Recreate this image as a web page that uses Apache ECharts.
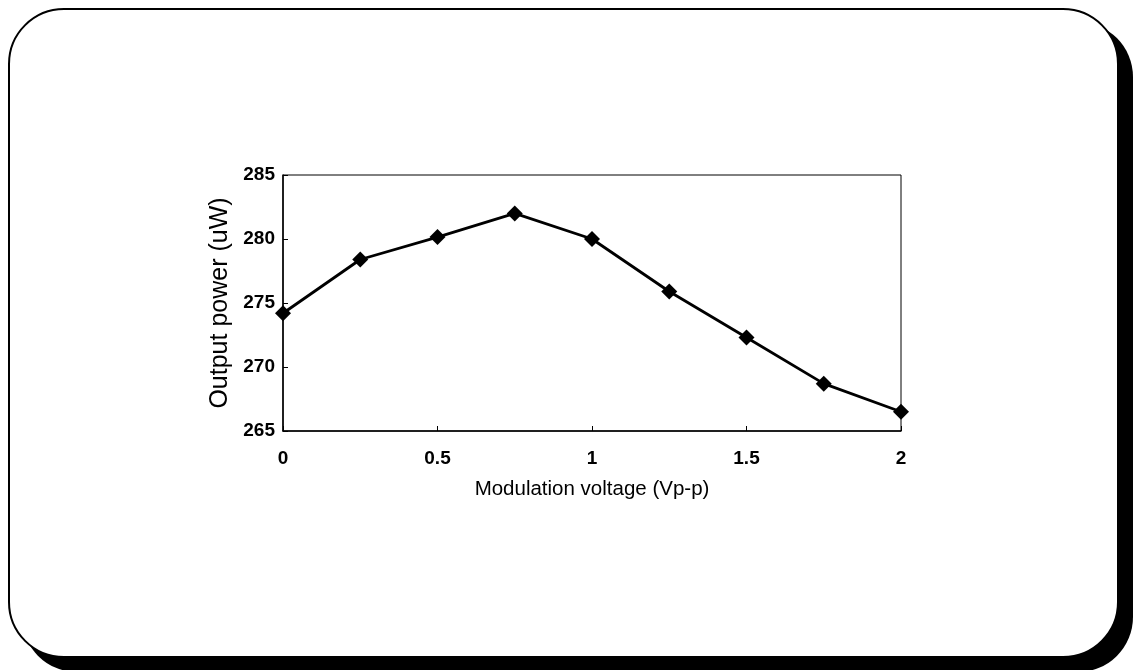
<!DOCTYPE html>
<html>
<head>
<meta charset="utf-8">
<script src="https://cdn.jsdelivr.net/npm/echarts@6/dist/echarts.min.js"></script>
<style>
html,body{margin:0;padding:0;background:#fff;}
#chart{width:1133px;height:670px;}
</style>
</head>
<body>
<div id="chart"></div>
<script>
const voltages = [0, 0.25, 0.5, 0.75, 1, 1.25, 1.5, 1.75, 2];
const powers = [274.2, 278.4, 280.15, 282.0, 280.0, 275.9, 272.3, 268.7, 266.5];
const xTitle = 'Modulation voltage (Vp-p)';
const yTitle = 'Output power (uW)';

const chart = echarts.init(document.getElementById('chart'));
const font = '"Liberation Sans", Arial, sans-serif';
chart.setOption({
  backgroundColor: '#fff',
  animation: false,
  graphic: [
    { type: 'rect', z: -10, silent: true,
      shape: { x: 22, y: 22, width: 1111, height: 650, r: 55 },
      style: { fill: '#000' } },
    { type: 'rect', z: -9, silent: true,
      shape: { x: 9, y: 9, width: 1109, height: 648, r: 55 },
      style: { fill: '#fff', stroke: '#000', lineWidth: 2 } }
  ],
  grid: { left: 283, right: 232, top: 175, bottom: 239, show: true, borderColor: '#000', borderWidth: 1, backgroundColor: 'transparent' },
  xAxis: {
    type: 'value', min: 0, max: 2, interval: 0.5,
    name: xTitle, nameLocation: 'middle', nameGap: 48,
    nameTextStyle: { fontFamily: font, fontSize: 20.5, color: '#000' },
    axisLine: { show: true, lineStyle: { color: '#000', width: 1.5 } },
    axisTick: { show: true, inside: true, length: 5, lineStyle: { color: '#000' } },
    axisLabel: { fontFamily: font, fontSize: 19, fontWeight: 'bold', color: '#000', margin: 18 },
    splitLine: { show: false }
  },
  yAxis: {
    type: 'value', min: 265, max: 285, interval: 5,
    name: yTitle, nameLocation: 'middle', nameGap: 45, nameRotate: 90,
    nameTextStyle: { fontFamily: font, fontSize: 25, color: '#000' },
    axisLine: { show: true, lineStyle: { color: '#000', width: 1.5 } },
    axisTick: { show: true, inside: true, length: 5, lineStyle: { color: '#000' } },
    axisLabel: { fontFamily: font, fontSize: 19, fontWeight: 'bold', color: '#000', margin: 8 },
    splitLine: { show: false }
  },
  series: [{
    type: 'line',
    data: voltages.map((v, i) => [v, powers[i]]),
    symbol: 'diamond', symbolSize: 16,
    itemStyle: { color: '#000' },
    lineStyle: { color: '#000', width: 2.8 },
    clip: false
  }]
});
</script>
</body>
</html>
